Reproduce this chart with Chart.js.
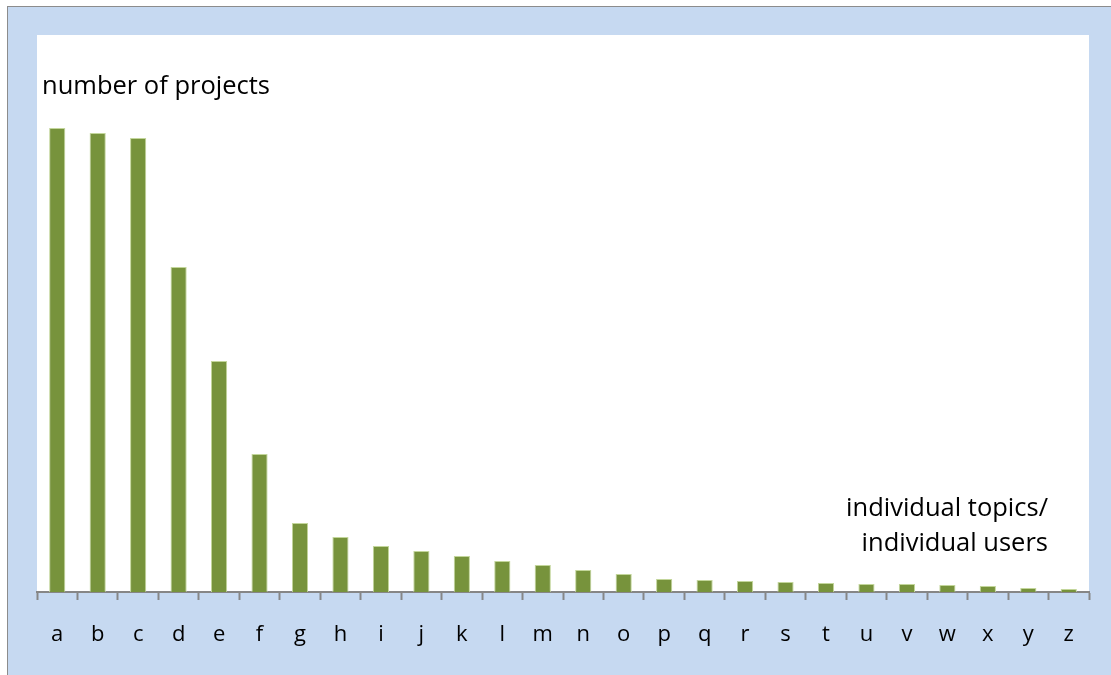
<!DOCTYPE html>
<html>
<head>
<meta charset="utf-8">
<script src="https://cdn.jsdelivr.net/npm/chart.js@4/dist/chart.umd.min.js"></script>
<style>
  html, body { margin: 0; padding: 0; background: #fff; }
  #wrap { width: 1111px; height: 675px; position: relative; }
</style>
</head>
<body>
<div id="wrap"><canvas id="topics-chart" width="1111" height="675"></canvas></div>
<script>
const categories = ["a", "b", "c", "d", "e", "f", "g", "h", "i", "j", "k", "l", "m",
  "n", "o", "p", "q", "r", "s", "t", "u", "v", "w", "x", "y", "z"];
const projects = [464, 459, 454, 325, 231, 138, 69, 55, 46, 41, 36, 31, 27,
  22, 18, 13, 12, 11, 10, 9, 8, 8, 7, 6, 4, 3];
const yTitle = "number of projects";
const xTitle = ["individual topics/", "individual users"];

const FONT = "'Open Sans', Lato, sans-serif";

// blue frame, white plot area and the two free-floating captions
const framePlugin = {
  id: "frame",
  beforeDraw(chart) {
    const { ctx, chartArea: a, width, height } = chart;
    ctx.save();
    ctx.fillStyle = "#fff";
    ctx.fillRect(0, 0, width, height);
    ctx.fillStyle = "#c6d9f1";
    ctx.fillRect(7, 6, width - 7, height - 6);
    ctx.fillStyle = "#8c8c8c";
    ctx.fillRect(7, 6, width - 7, 1);
    ctx.fillRect(7, 6, 1, height - 6);
    ctx.fillStyle = "#fff";
    ctx.fillRect(a.left, a.top, a.right - a.left, a.bottom - a.top);
    ctx.restore();
  },
  afterDraw(chart) {
    const { ctx } = chart;
    ctx.save();
    ctx.fillStyle = "#000";
    ctx.font = "25.5px " + FONT;
    ctx.textBaseline = "middle";
    ctx.textAlign = "left";
    ctx.fillText(yTitle, 42, 87);
    ctx.textAlign = "right";
    ctx.fillText(xTitle[0], 1048, 509);
    ctx.fillText(xTitle[1], 1048, 544);
    ctx.restore();
  }
};

new Chart("topics-chart", {
  type: "bar",
  data: {
    labels: categories,
    datasets: [
      {
        label: yTitle,
        data: projects,
        backgroundColor: "#77933c",
        borderColor: "#c3d69b",
        borderWidth: 1,
        borderSkipped: "bottom",
        categoryPercentage: 1,
        barPercentage: 0.4
      }
    ]
  },
  options: {
    responsive: false,
    animation: false,
    layout: { padding: { left: 37, right: 22, top: 35, bottom: 0 } },
    plugins: { legend: { display: false }, tooltip: { enabled: false } },
    scales: {
      x: {
        offset: true,
        grid: {
          drawOnChartArea: false,
          drawTicks: true,
          tickLength: 8,
          tickWidth: 2,
          color: "#868686",
          offset: true
        },
        border: { color: "#868686", width: 2 },
        ticks: {
          color: "#000",
          font: { family: FONT, size: 22 },
          padding: 22,
          maxRotation: 0,
          autoSkip: false
        },
        afterFit(scale) {
          scale.height = 83;
        }
      },
      y: {
        display: false,
        min: 0,
        max: 557
      }
    }
  },
  plugins: [framePlugin]
});
</script>
</body>
</html>
